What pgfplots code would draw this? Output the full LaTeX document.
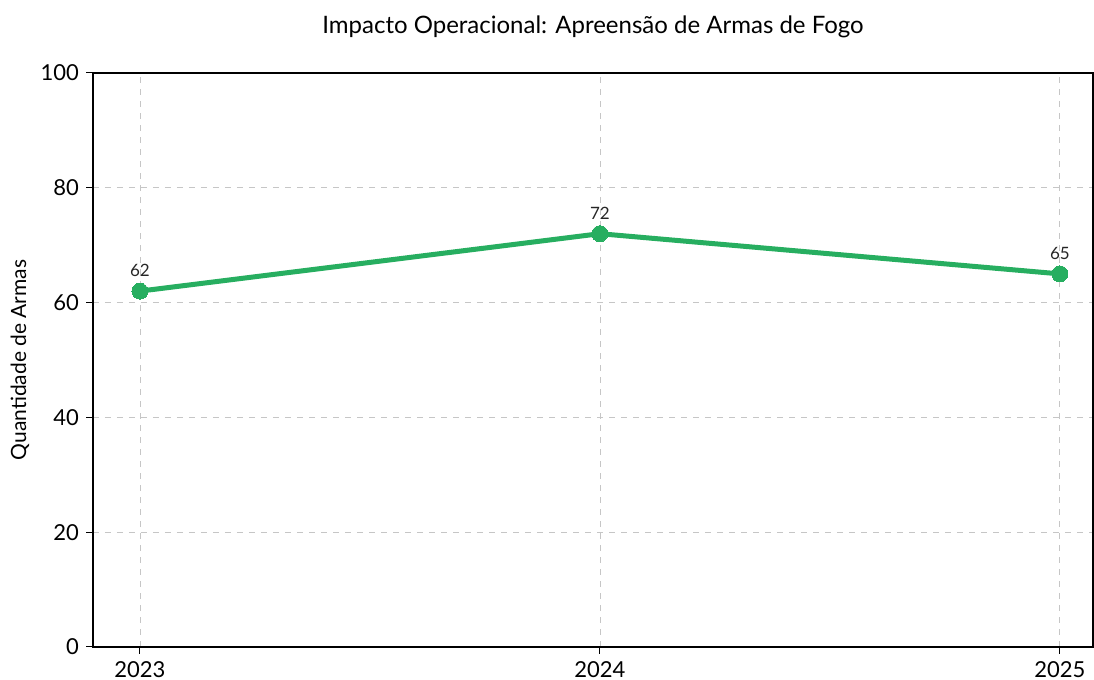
\documentclass[border=0pt]{standalone}
\usepackage{fontspec}
\setmainfont{Lato}
\usepackage{pgfplots}
\pgfplotsset{compat=1.18}
\definecolor{lgreen}{RGB}{39,174,96}
\begin{document}
\begin{tikzpicture}
\useasboundingbox (-46.5pt,-16.5pt) rectangle (500.5pt,323.5pt);
\begin{axis}[
  at={(0,0)}, anchor=south west,
  scale only axis, width=500pt, height=287pt,
  xmin=2022.898, xmax=2025.072, ymin=0, ymax=100,
  xtick={2023,2024,2025},
  xticklabels={2023,2024,2025},
  ytick={0,20,40,60,80,100},
  /pgf/number format/assume math mode=true,
  tick label style={font=\fontsize{11}{13}\selectfont},
  tick align=outside, tick pos=left,
  major tick length=3.5pt,
  every tick/.style={black, line width=0.5pt},
  axis line style={black, line width=0.6pt},
  grid=major,
  major grid style={gray!45, dashed, line width=0.4pt},
  title={Impacto Operacional: Apreensão de Armas de Fogo},
  title style={font=\fontsize{12}{14}\selectfont, at={(0.5,1)}, anchor=center, yshift=17pt},
  ylabel={Quantidade de Armas},
  ylabel style={font=\fontsize{10.5}{12}\selectfont, at={(-0.073,0.5)}, anchor=center},
  nodes near coords,
  every node near coord/.append style={font=\fontsize{8.5}{10}\selectfont, yshift=4pt, black!85},
]
\addplot[color=lgreen, line width=2.5pt, mark=*, mark size=4pt, mark options={fill=lgreen, draw=lgreen, line width=0pt}]
  coordinates {(2023,62) (2024,72) (2025,65)};
\end{axis}
\end{tikzpicture}
\end{document}
